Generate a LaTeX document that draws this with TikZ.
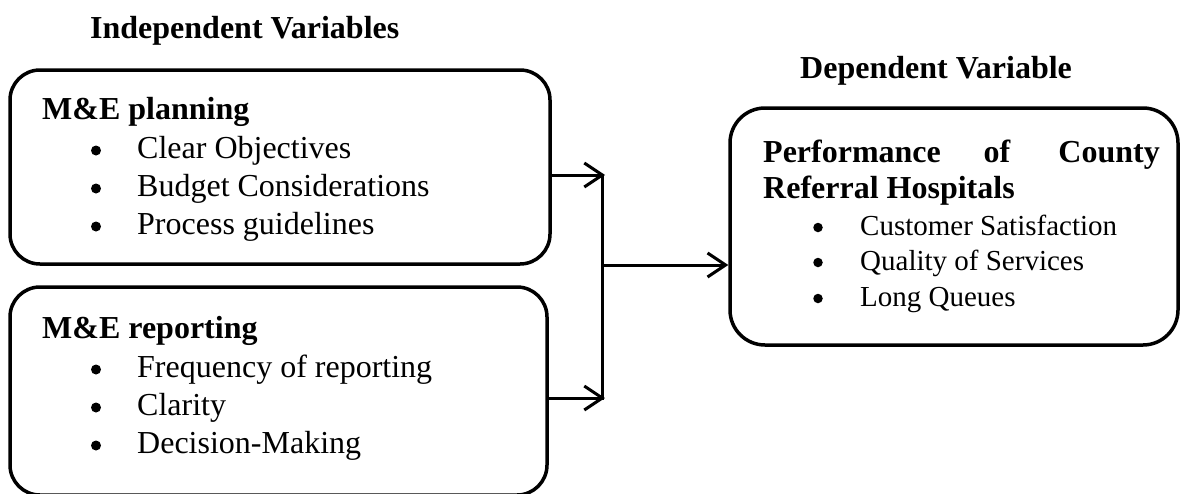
\documentclass[tikz,border=0pt]{standalone}
\usepackage{fontspec}
\setmainfont{Liberation Serif}
\usetikzlibrary{arrows.meta}
\begin{document}
\begin{tikzpicture}[x=1pt,y=-1pt,
  box/.style={draw, line width=3.5pt, rounded corners=30pt, inner sep=0pt},
  head/.style={font=\fontsize{32}{38}\selectfont\bfseries, anchor=base west, inner sep=0pt},
  item/.style={font=\fontsize{32}{38}\selectfont, anchor=base west, inner sep=0pt},
  sitem/.style={font=\fontsize{29}{35}\selectfont, anchor=base west, inner sep=0pt},
  bul/.style={circle, fill=black, inner sep=0pt, minimum size=10pt},
  sbul/.style={circle, fill=black, inner sep=0pt, minimum size=9.5pt},
  conn/.style={line width=3pt},
  arr/.style={conn, -{Straight Barb[length=18pt,width=24pt]}}]
\useasboundingbox (0,0) rectangle (1182,493);
% boxes
\node[box, minimum width=540pt, minimum height=194pt] (b1) at (280,167) {};
\node[box, minimum width=537pt, minimum height=208pt] (b2) at (278.5,391) {};
\node[box, rounded corners=35pt, minimum width=448pt, minimum height=237pt] (b3) at (954,226.5) {};
% headings
\node[head] (hind) at (90,38) {Independent Variables};
\node[head] (hdep) at (800,78) {Dependent Variable};
% box 1
\node[head] (t1) at (42,119) {M\&E planning};
\node[bul] (p1) at (96,150.5) {};
\node[item] (i1) at (137,158) {Clear Objectives};
\node[bul] (p2) at (96,188.5) {};
\node[item] (i2) at (137,196) {Budget Considerations};
\node[bul] (p3) at (96,226.5) {};
\node[item] (i3) at (137,234) {Process guidelines};
% box 2
\node[head] (t2) at (42,338) {M\&E reporting};
\node[bul] (q1) at (96,369.5) {};
\node[item] (j1) at (137,377) {Frequency of reporting};
\node[bul] (q2) at (96,407.5) {};
\node[item] (j2) at (137,415) {Clarity};
\node[bul] (q3) at (96,445.5) {};
\node[item] (j3) at (137,453) {Decision-Making};
% box 3
\node[head] (t3a) at (763,162) {Performance};
\node[head, anchor=base] (t3b) at (997,162) {of};
\node[head, anchor=base east] (t3c) at (1160,162) {County};
\node[head] (t3d) at (763,198) {Referral Hospitals};
\node[sbul] (r1) at (818,227.5) {};
\node[sitem] (k1) at (860,235) {Customer Satisfaction};
\node[sbul] (r2) at (818,262.5) {};
\node[sitem] (k2) at (860,270) {Quality of Services};
\node[sbul] (r3) at (818,298.5) {};
\node[sitem] (k3) at (860,306) {Long Queues};
% connectors
\coordinate (a1) at (605,175);
\coordinate (a2) at (605,398);
\coordinate (v1) at (602,173.5);
\coordinate (v2) at (602,399.5);
\coordinate (m) at (602,265);
\draw[arr] (b1.east |- a1) -- (a1);
\draw[arr] (b2.east |- a2) -- (a2);
\draw[conn] (v1) -- (v2);
\draw[arr] (m) -- (b3.west |- m);
\end{tikzpicture}
\end{document}
